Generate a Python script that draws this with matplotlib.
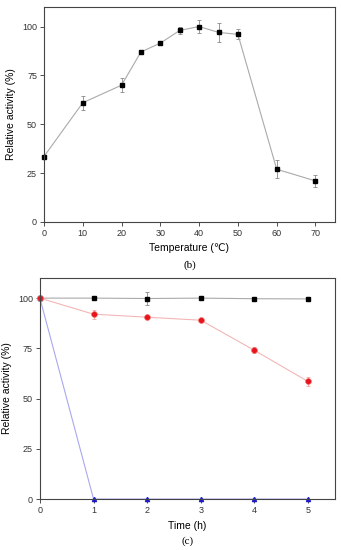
import numpy as np
import matplotlib.pyplot as plt

plt.rcParams['font.family'] = ['Liberation Sans', 'DejaVu Sans']

# (b) temperatura
temp = [0, 10, 20, 25, 30, 35, 40, 45, 50, 60, 70]
act_temp = [33.5, 61, 70, 87, 91.5, 98, 100, 97, 96, 27, 21]
err_temp = [0, 3.5, 3.5, 1, 1, 2, 3.5, 5, 2.5, 4.5, 3]

# (c) tiempo
tiempo = [0, 1, 2, 3, 4, 5]
act_neg = [100, 100, 99.8, 100, 99.7, 99.6]
err_neg = [0, 0.5, 3, 0.5, 0.5, 0.5]
act_roj = [100, 92, 90.5, 89, 74, 58.5]
err_roj = [0, 2.2, 1, 1, 1.5, 2]
act_azu = [100, 0, 0, 0, 0, 0]

fig = plt.figure(figsize=(3.41, 5.5), dpi=100)

ax1 = fig.add_axes([0.129, 0.5964, 0.853, 0.3909])
ax1.errorbar(temp, act_temp, yerr=err_temp, color='#aaaaaa', lw=0.8,
             marker='s', ms=3.4, mfc='black', mec='black',
             ecolor='#888888', elinewidth=0.6, capsize=1.5, capthick=0.6)
ax1.set_xlim(0, 75)
ax1.set_ylim(0, 110)
ax1.set_xticks([0, 10, 20, 30, 40, 50, 60, 70])
ax1.set_yticks([0, 25, 50, 75, 100])
ax1.set_xlabel('Temperature (℃)', fontsize=7.5, labelpad=4)
ax1.set_ylabel('Relative activity (%)', fontsize=7.5)
ax1.text(0.5, -0.2, '(b)', transform=ax1.transAxes, ha='center', va='center',
         fontsize=8, family='Liberation Serif')

ax2 = fig.add_axes([0.117, 0.0927, 0.865, 0.4018])
ax2.errorbar(tiempo, act_neg, yerr=err_neg, color='#aaaaaa', lw=0.8,
             marker='s', ms=3.4, mfc='black', mec='black',
             ecolor='#888888', elinewidth=0.6, capsize=1.5, capthick=0.6)
ax2.errorbar(tiempo, act_roj, yerr=err_roj, color='#f4b6b6', lw=0.8,
             marker='o', ms=4.2, mfc='#e8141c', mec='#f07070', mew=0.5,
             ecolor='#f29a9a', elinewidth=0.6, capsize=1.5, capthick=0.6)
ax2.plot(tiempo, act_azu, color='#a8a8f0', lw=0.8,
         marker='^', ms=3, mfc='#1a1acc', mec='#1a1acc')
ax2.set_xlim(0, 5.5)
ax2.set_ylim(0, 110)
ax2.set_xticks([0, 1, 2, 3, 4, 5])
ax2.set_yticks([0, 25, 50, 75, 100])
ax2.set_xlabel('Time (h)', fontsize=7.5, labelpad=4)
ax2.set_ylabel('Relative activity (%)', fontsize=7.5)
ax2.text(0.5, -0.19, '(c)', transform=ax2.transAxes, ha='center', va='center',
         fontsize=8, family='Liberation Serif')

for ax in (ax1, ax2):
    for s in ax.spines.values():
        s.set_color('#444444')
        s.set_linewidth(0.8)
    ax.tick_params(labelsize=6.5, length=3, width=0.6, colors='#333333', pad=2)
    for c in ax.get_children():
        if hasattr(c, 'set_clip_on'):
            c.set_clip_on(False)

fig.savefig('out.png', dpi=100)
